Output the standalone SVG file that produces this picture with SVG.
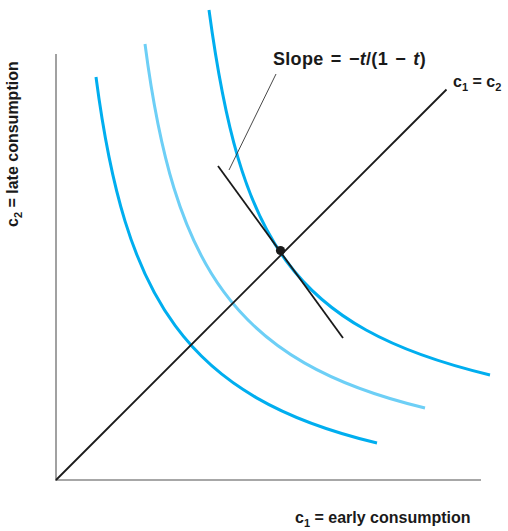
<svg xmlns="http://www.w3.org/2000/svg" width="508" height="531" viewBox="0 0 508 531">
<style>
.axis{stroke:#8a8a8a;stroke-width:1.6;fill:none}
.curve{fill:none;stroke-width:3;stroke-linecap:butt}
.dark{stroke:#00aeef}
.light{stroke:#6dcff6}
.line{stroke:#1a1a1a;fill:none;stroke-width:1.8}
.thin{stroke:#333;fill:none;stroke-width:0.9}
text{font-family:"Liberation Sans",Arial,sans-serif;font-weight:bold;fill:#1a1a1a}
.lab{font-size:16px}
.sub{font-size:11px}
</style>
<rect width="508" height="531" fill="#fff"/>
<g id="axes">
<line class="axis" x1="56" y1="54" x2="56" y2="480.8"/>
<line class="axis" x1="55.2" y1="480" x2="481" y2="480"/>
</g>
<g id="curve-inner">
<path class="curve dark" d="M96,77 C124.9,299 185,396.9 377,443"/>
</g>
<g id="curve-middle">
<path class="curve light" d="M145,44 C173.9,266 233,361.9 425,408"/>
</g>
<g id="curve-outer">
<path class="curve dark" d="M209,10 C240,240 290,327 490,375"/>
</g>
<g id="connectors">
<line id="diagonal" class="line" x1="56" y1="480" x2="446.5" y2="89.5"/>
<line id="tangent" class="line" x1="218" y1="166" x2="343" y2="338"/>
<line id="leader" class="thin" x1="276" y1="74" x2="229" y2="170"/>
</g>
<g id="point">
<circle cx="280.5" cy="250.5" r="4.6" fill="#1a1a1a"/>
</g>
<g id="slope-label">
<text x="273" y="65" font-size="18" letter-spacing="0.3" word-spacing="2">Slope = −<tspan font-style="italic">t</tspan>/(1 − <tspan font-style="italic">t</tspan>)</text>
</g>
<g id="diag-label">
<text class="lab" x="453" y="87">c<tspan class="sub" dy="4">1</tspan><tspan dy="-4"> = c</tspan><tspan class="sub" dy="4">2</tspan></text>
</g>
<g id="y-label">
<text class="lab" transform="translate(18,227) rotate(-90)">c<tspan class="sub" dy="4">2</tspan><tspan dy="-4"> = late consumption</tspan></text>
</g>
<g id="x-label">
<text class="lab" x="295" y="523" font-size="16.8">c<tspan class="sub" dy="4">1</tspan><tspan dy="-4"> = early consumption</tspan></text>
</g>
</svg>
